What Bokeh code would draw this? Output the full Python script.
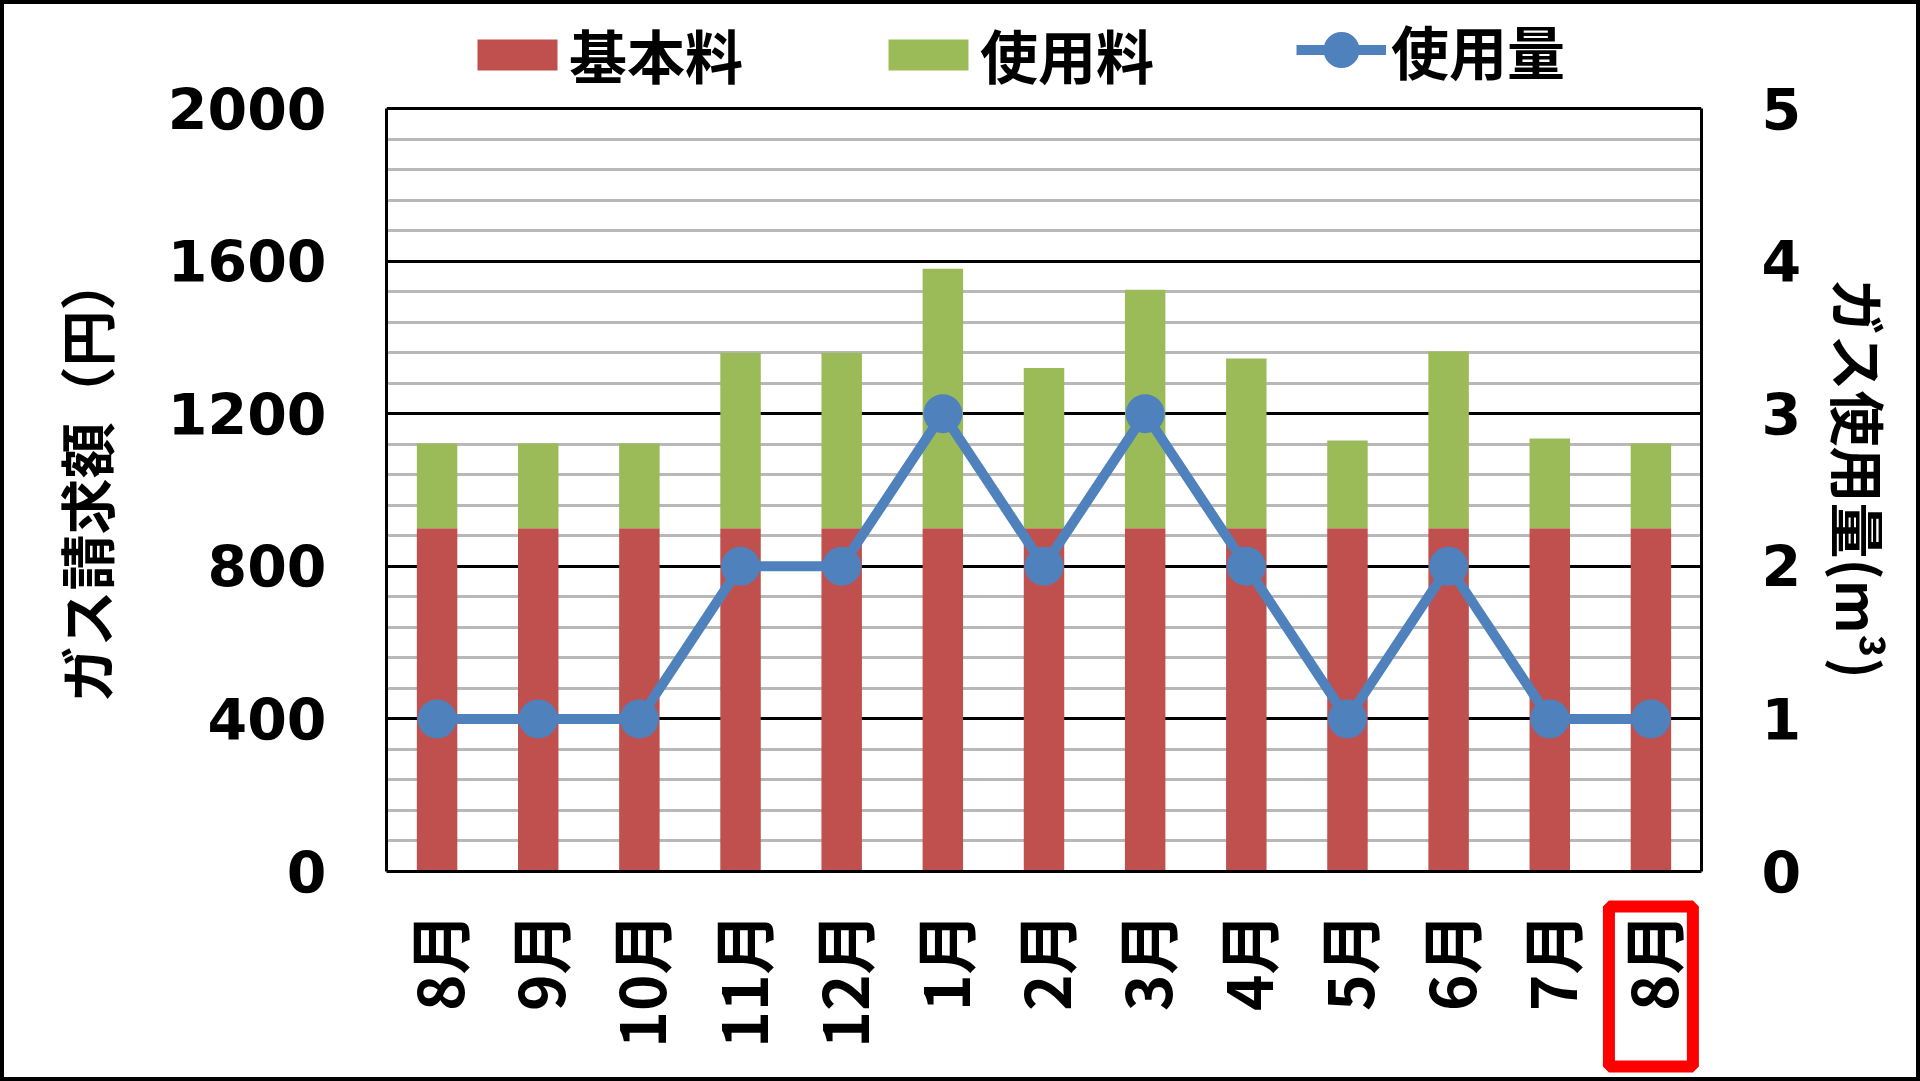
import math
import numpy as np
from bokeh.plotting import figure
from bokeh.layouts import column
from bokeh.models import (Range1d, LinearAxis, FixedTicker, Legend, LegendItem,
                          BoxAnnotation, ColumnDataSource, Title)
from bokeh.embed import file_html
from bokeh.resources import INLINE

# ---- data ----
months = ["8月", "9月", "10月", "11月", "12月", "1月", "2月", "3月",
          "4月", "5月", "6月", "7月", "8月"]
base_fee = [900, 900, 900, 900, 900, 900, 900, 900, 900, 900, 900, 900, 900]   # 基本料 (円)
usage_fee = [222, 222, 222, 460, 460, 680, 420, 625, 445, 230, 463, 235, 222]  # 使用料 (円)
usage_m3 = [1, 1, 1, 2, 2, 3, 2, 3, 2, 1, 2, 1, 1]                             # 使用量 (m3)
yen_ticks = [0, 400, 800, 1200, 1600, 2000]
vol_ticks = [0, 1, 2, 3, 4, 5]
highlight_index = 12

RED = "#C0504D"
GREEN = "#9BBB59"
BLUE = "#4F81BD"
JP = "Noto Sans CJK JP"
NUM = "DejaVu Sans"

# ---- layout geometry (pixels, inside a 4px page border) ----
BORDER = 4
W, H = 1920 - 2 * BORDER, 1081 - 2 * BORDER
LEFT, RIGHT = 386 - BORDER, 219 - BORDER
PLOT_TOP, PLOT_BOTTOM = 108 - BORDER, 871 - BORDER


def padded_range(lo, hi):
    per_px = (hi - lo) / (PLOT_BOTTOM - PLOT_TOP)
    return Range1d(lo - (H - PLOT_BOTTOM) * per_px, hi + PLOT_TOP * per_px)


xpos = list(range(len(months)))
total = list(np.add(base_fee, usage_fee))
src = ColumnDataSource(dict(x=xpos, base=base_fee, usage=usage_fee, total=total, vol=usage_m3))

p = figure(width=W, height=H,
           x_range=Range1d(-0.5, len(months) - 0.5),
           y_range=padded_range(yen_ticks[0], yen_ticks[-1]),
           output_backend="svg", toolbar_location=None, x_axis_location=None,
           min_border_left=LEFT, min_border_right=RIGHT,
           min_border_top=0, min_border_bottom=0)
p.extra_y_ranges = {"vol": padded_range(vol_ticks[0], vol_ticks[-1])}

# bars
r_base = p.vbar(x="x", width=0.4, bottom=0, top="base", source=src,
                fill_color=RED, line_color=None)
r_use = p.vbar(x="x", width=0.4, bottom="base", top="total", source=src,
               fill_color=GREEN, line_color=None)
# line
r_line = p.line(x="x", y="vol", source=src, y_range_name="vol",
                line_color=BLUE, line_width=10, line_join="round")
r_pts = p.scatter(x="x", y="vol", source=src, y_range_name="vol",
                  marker="circle", size=39, fill_color=BLUE, line_color=None)

# axes
minor = [v for v in range(yen_ticks[0], yen_ticks[-1] + 1, 80) if v not in yen_ticks]
yt = FixedTicker(ticks=yen_ticks, minor_ticks=minor)
p.yaxis.ticker = yt
p.yaxis.bounds = (yen_ticks[0], yen_ticks[-1])
p.ygrid.ticker = yt

xaxis = LinearAxis(ticker=FixedTicker(ticks=xpos), fixed_location=0,
                   major_label_overrides={i: m for i, m in zip(xpos, months)},
                   major_label_orientation=math.pi / 2)
p.add_layout(xaxis, "below")

right = LinearAxis(y_range_name="vol", ticker=FixedTicker(ticks=vol_ticks),
                   bounds=(vol_ticks[0], vol_ticks[-1]))
p.add_layout(right, "right")

for ax in [xaxis, p.yaxis[0], right]:
    ax.axis_line_color = "black"
    ax.axis_line_width = 3
    ax.major_tick_out = 0
    ax.major_tick_in = 0
    ax.minor_tick_out = 0
    ax.minor_tick_in = 0
    ax.major_label_text_color = "black"
    ax.major_label_text_font_style = "bold"

xaxis.major_label_text_font = JP
xaxis.major_label_text_font_size = "62px"
xaxis.major_label_standoff = 41
for ax in [p.yaxis[0], right]:
    ax.major_label_text_font = NUM
    ax.major_label_text_font_size = "57px"
    ax.major_label_standoff = 60

# axis titles (as side titles so they can sit at the value-axis centre)
left_title = Title(text="ガス請求額（円）", align="left", vertical_align="top",
                   offset=375, standoff=76, text_font=JP, text_font_style="bold",
                   text_font_size="56px", text_color="black")
right_title = Title(text="ガス使用量(m³)", align="left", vertical_align="middle",
                    offset=274, standoff=29, text_font=JP, text_font_style="bold",
                    text_font_size="56px", text_color="black")
p.add_layout(left_title, "left")
p.add_layout(right_title, "right")

for g in p.grid:
    if g.dimension == 0:
        g.visible = False
p.ygrid.grid_line_color = "black"
p.ygrid.grid_line_width = 3
p.ygrid.minor_grid_line_color = "#B8B8B8"
p.ygrid.minor_grid_line_width = 3

p.outline_line_color = None
p.background_fill_color = "white"
p.border_fill_color = "white"

# legends (inside the tall frame, above the value area)
legA = Legend(items=[LegendItem(label="基本料", renderers=[r_base]),
                     LegendItem(label="使用料", renderers=[r_use])],
              orientation="horizontal", location=(81, 981),
              glyph_width=100, glyph_height=39, label_standoff=2, spacing=135,
              padding=0, margin=0, border_line_color=None, background_fill_alpha=0,
              label_text_font=JP, label_text_font_style="bold",
              label_text_font_size="58px", label_text_color="black")
legB = Legend(items=[LegendItem(label="使用量", renderers=[r_line, r_pts])],
              orientation="horizontal", location=(910, 979),
              glyph_width=90, glyph_height=97, label_standoff=5,
              padding=0, margin=0, border_line_color=None, background_fill_alpha=0,
              label_text_font=JP, label_text_font_style="bold",
              label_text_font_size="58px", label_text_color="black")
p.add_layout(legA)
p.add_layout(legB)

# red highlight around the last month label
hl = BoxAnnotation(left=highlight_index - 0.415, right=highlight_index + 0.415,
                   top=-92, bottom=-511, fill_alpha=0, fill_color=None,
                   line_color="#FF0000", line_width=12, line_alpha=1)
p.add_layout(hl)

page = column(p, styles={"border": f"{BORDER}px solid black"})
open("out.html", "w").write(file_html(page, INLINE))
